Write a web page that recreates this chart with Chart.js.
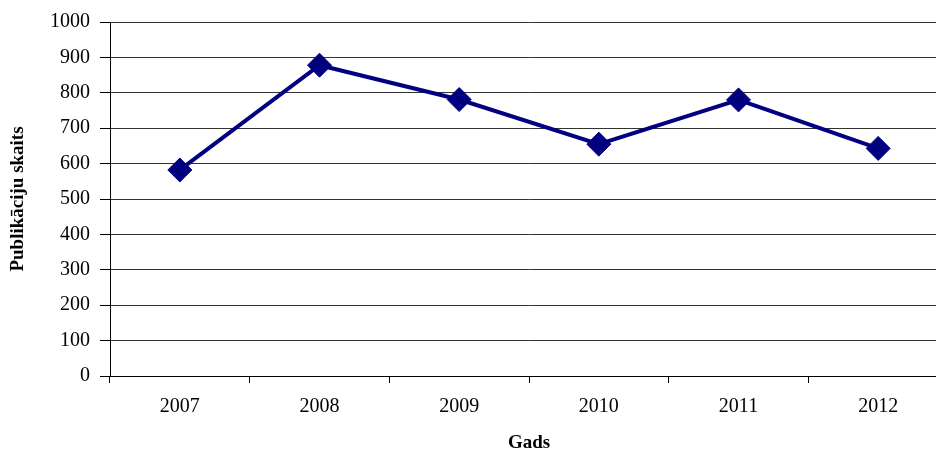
<!DOCTYPE html>
<html>
<head>
<meta charset="utf-8">
<script src="https://cdn.jsdelivr.net/npm/chart.js@4/dist/chart.umd.min.js"></script>
<style>
  html, body { margin: 0; padding: 0; background: #fff; }
  #wrap { width: 936px; height: 453px; overflow: hidden; position: relative; }
</style>
</head>
<body>
<div id="wrap"><canvas id="c" width="948" height="453" style="width:948px;height:453px"></canvas></div>
<script>
// Publication counts per year
const years = ['2007', '2008', '2009', '2010', '2011', '2012'];
const publications = [582, 878, 781, 655, 780, 643];
const yTicks = [0, 100, 200, 300, 400, 500, 600, 700, 800, 900, 1000];

const navy = '#000080';
const serif = '"Liberation Serif", "Times New Roman", serif';

new Chart(document.getElementById('c'), {
  type: 'line',
  data: {
    labels: years,
    datasets: [{
      label: 'Publikāciju skaits',
      data: publications,
      borderColor: navy,
      backgroundColor: navy,
      borderWidth: 4,
      pointStyle: 'rectRot',
      pointRadius: 12,
      pointBorderWidth: 1,
      pointBackgroundColor: navy,
      pointBorderColor: navy,
      tension: 0,
      fill: false
    }]
  },
  options: {
    responsive: false,
    devicePixelRatio: 1,
    animation: false,
    layout: { autoPadding: false, padding: { top: 22, right: 0, bottom: 0, left: 0 } },
    plugins: {
      legend: { display: false },
      tooltip: { enabled: false }
    },
    scales: {
      x: {
        offset: true,
        afterFit: s => {
          s.height = 77;
          s.paddingLeft = 0;
          s.paddingRight = 0;
        },
        grid: {
          offset: true,
          drawOnChartArea: false,
          drawTicks: true,
          tickLength: 7,
          tickColor: '#000',
          color: '#000'
        },
        border: { display: true, color: '#000', width: 1 },
        ticks: {
          color: '#000',
          padding: 12,
          font: { family: serif, size: 20 }
        },
        title: {
          display: true,
          text: 'Gads',
          color: '#000',
          padding: { top: 0, bottom: 0 },
          font: { family: serif, size: 19, weight: 'bold', lineHeight: 1 }
        }
      },
      y: {
        min: 0,
        max: 1000,
        afterFit: s => { s.width = 110; },
        afterBuildTicks: s => { s.ticks = yTicks.map(v => ({ value: v })); },
        grid: {
          color: '#333',
          lineWidth: 1,
          drawTicks: true,
          tickLength: 10,
          tickColor: '#000'
        },
        border: { display: true, color: '#000', width: 1 },
        ticks: {
          color: '#000',
          padding: 10,
          font: { family: serif, size: 20 },
          callback: v => String(v)
        },
        title: {
          display: true,
          text: 'Publikāciju skaits',
          color: '#000',
          padding: { top: 7, bottom: 0 },
          font: { family: serif, size: 19, weight: 'bold' }
        }
      }
    }
  }
});
</script>
</body>
</html>
